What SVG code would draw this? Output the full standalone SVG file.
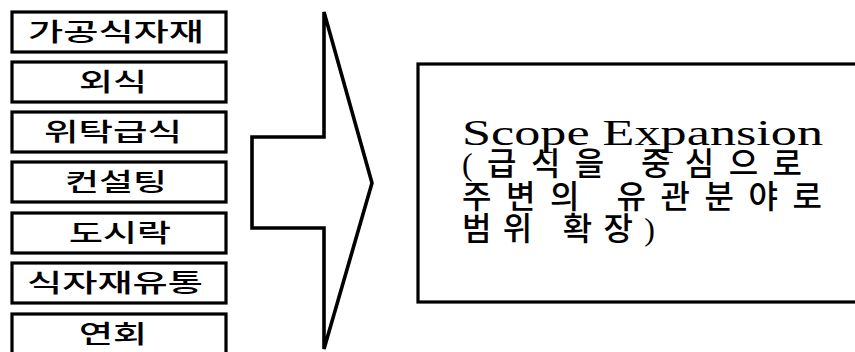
<svg xmlns="http://www.w3.org/2000/svg" width="855" height="352" viewBox="0 0 855 352">
<style>
.box{fill:#fff;stroke:#000;stroke-width:3.2}
.lt{font-family:"Noto Sans CJK KR","Liberation Sans",sans-serif;font-size:25px;font-weight:500;fill:#000;text-anchor:middle}
.rt{font-family:"Liberation Serif","Noto Sans CJK KR",serif;fill:#000}
.kr{font-size:32px;font-weight:500}
</style>
<rect width="855" height="352" fill="#fff"/>
<g id="n1"><rect class="box" x="12" y="12" width="214" height="40"/><text class="lt" x="116" y="41" textLength="176" lengthAdjust="spacingAndGlyphs">가공식자재</text></g>
<g id="n2"><rect class="box" x="12" y="62" width="214" height="40"/><text class="lt" x="113" y="91" textLength="68" lengthAdjust="spacingAndGlyphs">외식</text></g>
<g id="n3"><rect class="box" x="12" y="112" width="214" height="40"/><text class="lt" x="113" y="141" textLength="138" lengthAdjust="spacingAndGlyphs">위탁급식</text></g>
<g id="n4"><rect class="box" x="12" y="162" width="214" height="40"/><text class="lt" x="116" y="191" textLength="102" lengthAdjust="spacingAndGlyphs">컨설팅</text></g>
<g id="n5"><rect class="box" x="12" y="213" width="214" height="40"/><text class="lt" x="120" y="242" textLength="102" lengthAdjust="spacingAndGlyphs">도시락</text></g>
<g id="n6"><rect class="box" x="12" y="263" width="214" height="40"/><text class="lt" x="115" y="292" textLength="176" lengthAdjust="spacingAndGlyphs">식자재유통</text></g>
<g id="n7"><rect class="box" x="12" y="314" width="214" height="44"/><text class="lt" x="113" y="343" textLength="68" lengthAdjust="spacingAndGlyphs">연회</text></g>
<g id="connectors">
<polygon points="324,12 324,137 252,137 252,228 324,228 324,349 372,183" fill="#fff" stroke="#000" stroke-width="3.6" stroke-linejoin="miter"/>
</g>
<g id="result">
<rect class="box" x="418" y="64" width="460" height="238" stroke-width="3.6"/>
<text class="rt" x="462" y="145" font-size="35" textLength="361" lengthAdjust="spacingAndGlyphs">Scope Expansion</text>
<text class="rt kr" x="462" y="175" textLength="340" lengthAdjust="spacing">(급식을 중심으로</text>
<text class="rt kr" x="462" y="208" textLength="360" lengthAdjust="spacing">주변의 유관분야로</text>
<text class="rt kr" x="462" y="240" textLength="193" lengthAdjust="spacing">범위 확장)</text>
</g>
</svg>
